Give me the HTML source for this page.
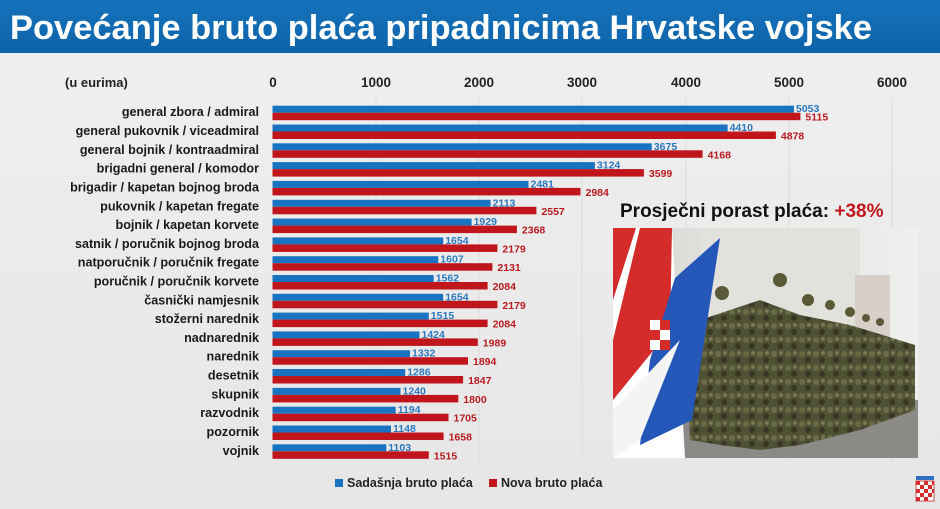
<!DOCTYPE html>
<html><head><meta charset="utf-8"><style>
html,body{margin:0;padding:0;width:940px;height:509px;overflow:hidden;background:#ebebeb;}
svg{display:block}
text{font-family:"Liberation Sans",sans-serif;font-weight:bold}
</style></head><body>
<svg width="940" height="509" viewBox="0 0 940 509" xmlns="http://www.w3.org/2000/svg">
<defs>
<linearGradient id="bg" x1="0" y1="0" x2="0" y2="1"><stop offset="0" stop-color="#f0f0f0"/><stop offset="1" stop-color="#e6e6e6"/></linearGradient>
<linearGradient id="tb" x1="0" y1="0" x2="0" y2="1"><stop offset="0" stop-color="#1672bb"/><stop offset="1" stop-color="#0d64aa"/></linearGradient>
<linearGradient id="sky" x1="0" y1="0" x2="1" y2="0"><stop offset="0" stop-color="#d8d8d4"/><stop offset="1" stop-color="#eef0ee"/></linearGradient>
<pattern id="camo" width="14" height="14" patternUnits="userSpaceOnUse"><rect width="14" height="14" fill="#4e5234"/><circle cx="4" cy="4" r="3" fill="#6b6a45"/><circle cx="10" cy="10" r="3" fill="#3a3624"/><circle cx="11" cy="3" r="2" fill="#7d7556"/></pattern>
</defs>
<rect width="940" height="509" fill="url(#bg)"/>
<rect width="940" height="53" fill="url(#tb)"/>
<text x="10" y="39" font-size="34" fill="#fff" textLength="862" lengthAdjust="spacingAndGlyphs">Povećanje bruto plaća pripadnicima Hrvatske vojske</text>
<text x="65" y="87" font-size="13" fill="#222">(u eurima)</text>
<g font-size="13.5" fill="#222" text-anchor="middle">
<text x="273" y="87">0</text><text x="376" y="87">1000</text><text x="479" y="87">2000</text><text x="582" y="87">3000</text><text x="686" y="87">4000</text><text x="789" y="87">5000</text><text x="892" y="87">6000</text>
</g>
<g stroke="#dcdcdc" stroke-width="1">
<line x1="376" y1="98" x2="376" y2="462"/><line x1="479" y1="98" x2="479" y2="462"/><line x1="582" y1="98" x2="582" y2="462"/><line x1="686" y1="98" x2="686" y2="462"/><line x1="789" y1="98" x2="789" y2="462"/><line x1="892" y1="98" x2="892" y2="462"/>
</g>
<g font-size="10.5">
<g transform="translate(272.5,105.7)"><text x="-13.5" y="10.5" font-size="12.6" text-anchor="end" fill="#1a1a1a">general zbora / admiral</text><rect width="521.5" height="7" fill="#1874c1"/><rect y="7" width="527.9" height="7.5" fill="#c0151a"/><text x="523.5" y="6.5" fill="#2a78c0">5053</text><text x="532.9" y="15" fill="#b81a1f">5115</text></g>
<g transform="translate(272.5,124.5)"><text x="-13.5" y="10.5" font-size="12.6" text-anchor="end" fill="#1a1a1a">general pukovnik / viceadmiral</text><rect width="455.1" height="7" fill="#1874c1"/><rect y="7" width="503.4" height="7.5" fill="#c0151a"/><text x="457.1" y="6.5" fill="#2a78c0">4410</text><text x="508.4" y="15" fill="#b81a1f">4878</text></g>
<g transform="translate(272.5,143.3)"><text x="-13.5" y="10.5" font-size="12.6" text-anchor="end" fill="#1a1a1a">general bojnik / kontraadmiral</text><rect width="379.3" height="7" fill="#1874c1"/><rect y="7" width="430.1" height="7.5" fill="#c0151a"/><text x="381.3" y="6.5" fill="#2a78c0">3675</text><text x="435.1" y="15" fill="#b81a1f">4168</text></g>
<g transform="translate(272.5,162.1)"><text x="-13.5" y="10.5" font-size="12.6" text-anchor="end" fill="#1a1a1a">brigadni general / komodor</text><rect width="322.4" height="7" fill="#1874c1"/><rect y="7" width="371.4" height="7.5" fill="#c0151a"/><text x="324.4" y="6.5" fill="#2a78c0">3124</text><text x="376.4" y="15" fill="#b81a1f">3599</text></g>
<g transform="translate(272.5,180.9)"><text x="-13.5" y="10.5" font-size="12.6" text-anchor="end" fill="#1a1a1a">brigadir / kapetan bojnog broda</text><rect width="256" height="7" fill="#1874c1"/><rect y="7" width="308" height="7.5" fill="#c0151a"/><text x="258" y="6.5" fill="#2a78c0">2481</text><text x="313" y="15" fill="#b81a1f">2984</text></g>
<g transform="translate(272.5,199.8)"><text x="-13.5" y="10.5" font-size="12.6" text-anchor="end" fill="#1a1a1a">pukovnik / kapetan fregate</text><rect width="218.1" height="7" fill="#1874c1"/><rect y="7" width="263.9" height="7.5" fill="#c0151a"/><text x="220.1" y="6.5" fill="#2a78c0">2113</text><text x="268.9" y="15" fill="#b81a1f">2557</text></g>
<g transform="translate(272.5,218.6)"><text x="-13.5" y="10.5" font-size="12.6" text-anchor="end" fill="#1a1a1a">bojnik / kapetan korvete</text><rect width="199.1" height="7" fill="#1874c1"/><rect y="7" width="244.4" height="7.5" fill="#c0151a"/><text x="201.1" y="6.5" fill="#2a78c0">1929</text><text x="249.4" y="15" fill="#b81a1f">2368</text></g>
<g transform="translate(272.5,237.4)"><text x="-13.5" y="10.5" font-size="12.6" text-anchor="end" fill="#1a1a1a">satnik / poručnik bojnog broda</text><rect width="170.7" height="7" fill="#1874c1"/><rect y="7" width="224.9" height="7.5" fill="#c0151a"/><text x="172.7" y="6.5" fill="#2a78c0">1654</text><text x="229.9" y="15" fill="#b81a1f">2179</text></g>
<g transform="translate(272.5,256.2)"><text x="-13.5" y="10.5" font-size="12.6" text-anchor="end" fill="#1a1a1a">natporučnik / poručnik fregate</text><rect width="165.8" height="7" fill="#1874c1"/><rect y="7" width="219.9" height="7.5" fill="#c0151a"/><text x="167.8" y="6.5" fill="#2a78c0">1607</text><text x="224.9" y="15" fill="#b81a1f">2131</text></g>
<g transform="translate(272.5,275)"><text x="-13.5" y="10.5" font-size="12.6" text-anchor="end" fill="#1a1a1a">poručnik / poručnik korvete</text><rect width="161.2" height="7" fill="#1874c1"/><rect y="7" width="215.1" height="7.5" fill="#c0151a"/><text x="163.2" y="6.5" fill="#2a78c0">1562</text><text x="220.1" y="15" fill="#b81a1f">2084</text></g>
<g transform="translate(272.5,293.8)"><text x="-13.5" y="10.5" font-size="12.6" text-anchor="end" fill="#1a1a1a">časnički namjesnik</text><rect width="170.7" height="7" fill="#1874c1"/><rect y="7" width="224.9" height="7.5" fill="#c0151a"/><text x="172.7" y="6.5" fill="#2a78c0">1654</text><text x="229.9" y="15" fill="#b81a1f">2179</text></g>
<g transform="translate(272.5,312.6)"><text x="-13.5" y="10.5" font-size="12.6" text-anchor="end" fill="#1a1a1a">stožerni narednik</text><rect width="156.3" height="7" fill="#1874c1"/><rect y="7" width="215.1" height="7.5" fill="#c0151a"/><text x="158.3" y="6.5" fill="#2a78c0">1515</text><text x="220.1" y="15" fill="#b81a1f">2084</text></g>
<g transform="translate(272.5,331.4)"><text x="-13.5" y="10.5" font-size="12.6" text-anchor="end" fill="#1a1a1a">nadnarednik</text><rect width="147" height="7" fill="#1874c1"/><rect y="7" width="205.3" height="7.5" fill="#c0151a"/><text x="149" y="6.5" fill="#2a78c0">1424</text><text x="210.3" y="15" fill="#b81a1f">1989</text></g>
<g transform="translate(272.5,350.2)"><text x="-13.5" y="10.5" font-size="12.6" text-anchor="end" fill="#1a1a1a">narednik</text><rect width="137.5" height="7" fill="#1874c1"/><rect y="7" width="195.5" height="7.5" fill="#c0151a"/><text x="139.5" y="6.5" fill="#2a78c0">1332</text><text x="200.5" y="15" fill="#b81a1f">1894</text></g>
<g transform="translate(272.5,369)"><text x="-13.5" y="10.5" font-size="12.6" text-anchor="end" fill="#1a1a1a">desetnik</text><rect width="132.7" height="7" fill="#1874c1"/><rect y="7" width="190.6" height="7.5" fill="#c0151a"/><text x="134.7" y="6.5" fill="#2a78c0">1286</text><text x="195.6" y="15" fill="#b81a1f">1847</text></g>
<g transform="translate(272.5,387.9)"><text x="-13.5" y="10.5" font-size="12.6" text-anchor="end" fill="#1a1a1a">skupnik</text><rect width="128" height="7" fill="#1874c1"/><rect y="7" width="185.8" height="7.5" fill="#c0151a"/><text x="130" y="6.5" fill="#2a78c0">1240</text><text x="190.8" y="15" fill="#b81a1f">1800</text></g>
<g transform="translate(272.5,406.7)"><text x="-13.5" y="10.5" font-size="12.6" text-anchor="end" fill="#1a1a1a">razvodnik</text><rect width="123.2" height="7" fill="#1874c1"/><rect y="7" width="176" height="7.5" fill="#c0151a"/><text x="125.2" y="6.5" fill="#2a78c0">1194</text><text x="181" y="15" fill="#b81a1f">1705</text></g>
<g transform="translate(272.5,425.5)"><text x="-13.5" y="10.5" font-size="12.6" text-anchor="end" fill="#1a1a1a">pozornik</text><rect width="118.5" height="7" fill="#1874c1"/><rect y="7" width="171.1" height="7.5" fill="#c0151a"/><text x="120.5" y="6.5" fill="#2a78c0">1148</text><text x="176.1" y="15" fill="#b81a1f">1658</text></g>
<g transform="translate(272.5,444.3)"><text x="-13.5" y="10.5" font-size="12.6" text-anchor="end" fill="#1a1a1a">vojnik</text><rect width="113.8" height="7" fill="#1874c1"/><rect y="7" width="156.3" height="7.5" fill="#c0151a"/><text x="115.8" y="6.5" fill="#2a78c0">1103</text><text x="161.3" y="15" fill="#b81a1f">1515</text></g>
</g>
<!-- photo -->
<g>
<text x="620" y="217" font-size="19" fill="#111">Prosječni porast plaća: <tspan fill="#c0161c">+38%</tspan></text>
<rect x="613" y="228" width="305" height="230" fill="url(#sky)"/>
<rect x="700" y="228" width="160" height="130" fill="#e2e2dc"/>
<rect x="855" y="275" width="35" height="90" fill="#d6d0c8"/>
<polygon points="613,458 918,458 918,400 780,390 613,420" fill="#8c8a86"/>
<polygon points="685,330 700,320 760,300 800,315 850,325 915,345 915,410 860,430 800,445 760,450 720,445 690,440" fill="url(#camo)"/>
<g fill="#5a5a38"><circle cx="722" cy="293" r="7"/><circle cx="780" cy="280" r="7"/><circle cx="808" cy="300" r="6"/><circle cx="830" cy="305" r="5"/><circle cx="850" cy="312" r="5"/><circle cx="866" cy="318" r="4"/><circle cx="880" cy="322" r="4"/></g>
<polygon points="613,228 672,228 685,458 613,458" fill="#fff"/>
<polygon points="613,228 636,228 613,300" fill="#d42b2b"/>
<polygon points="640,228 672,228 670,330 613,400 613,340" fill="#d42b2b"/>
<polygon points="675,278 720,238 692,420 640,445 650,360" fill="#2457b8"/>
<polygon points="613,410 680,340 640,440 613,458" fill="#f4f4f4"/>
<rect x="650" y="320" width="20" height="30" fill="#d42b2b"/>
<rect x="650" y="320" width="10" height="10" fill="#fff"/><rect x="660" y="330" width="10" height="10" fill="#fff"/><rect x="650" y="340" width="10" height="10" fill="#fff"/>
</g>
<!-- legend -->
<rect x="335" y="479" width="8" height="8" fill="#1874c1"/>
<text x="347" y="487" font-size="12.5" fill="#222">Sadašnja bruto plaća</text>
<rect x="489" y="479" width="8" height="8" fill="#c0151a"/>
<text x="501" y="487" font-size="12.5" fill="#222">Nova bruto plaća</text>
<!-- coat of arms -->
<rect x="916" y="476" width="18" height="4" fill="#2f6fc4"/>
<rect x="916" y="481" width="18" height="20" fill="#fff" stroke="#c42b2b" stroke-width="0.8"/>
<g fill="#d42b2b">
<rect x="916" y="481" width="4" height="4"/><rect x="924" y="481" width="4" height="4"/><rect x="932" y="481" width="2" height="4"/>
<rect x="920" y="485" width="4" height="4"/><rect x="928" y="485" width="4" height="4"/>
<rect x="916" y="489" width="4" height="4"/><rect x="924" y="489" width="4" height="4"/><rect x="932" y="489" width="2" height="4"/>
<rect x="920" y="493" width="4" height="4"/><rect x="928" y="493" width="4" height="4"/>
<rect x="916" y="497" width="4" height="4"/><rect x="924" y="497" width="4" height="4"/>
</g>
</svg>
</body></html>
